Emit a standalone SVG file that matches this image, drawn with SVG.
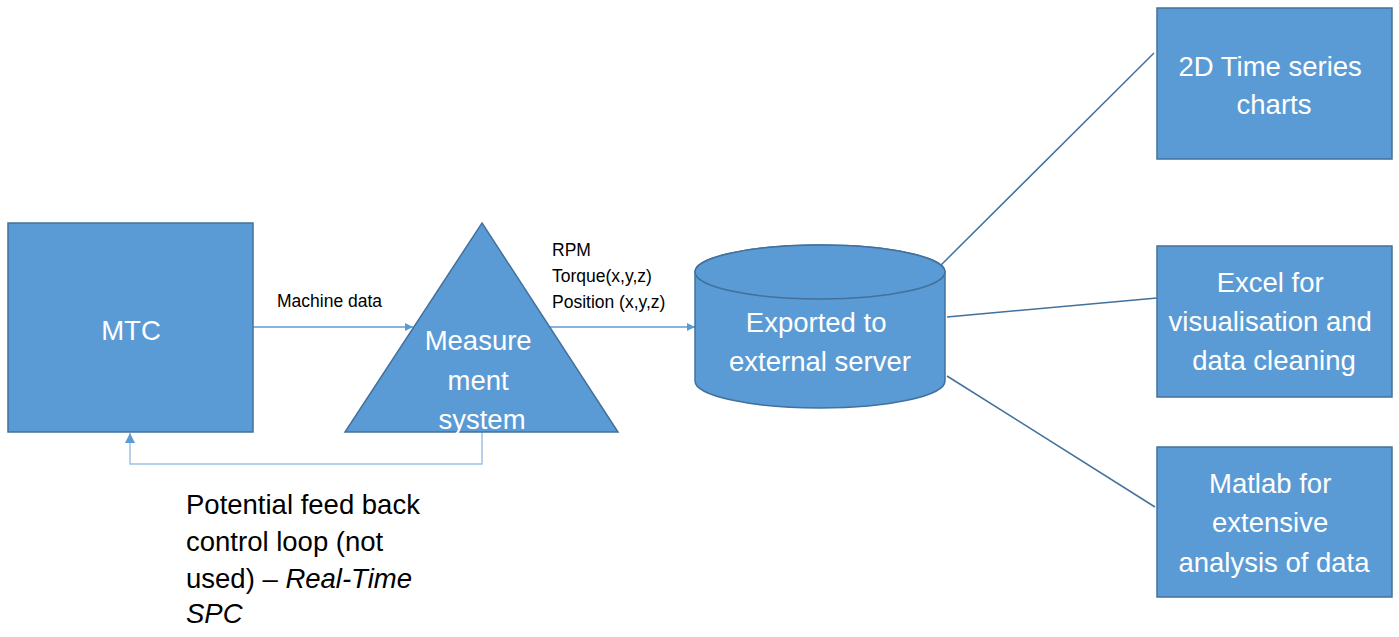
<svg xmlns="http://www.w3.org/2000/svg" width="1399" height="637" viewBox="0 0 1399 637">
  <defs>
    <marker id="arrow" viewBox="0 0 10 10" refX="10" refY="5" markerWidth="8" markerHeight="8" markerUnits="userSpaceOnUse" orient="auto">
      <path d="M0,0 L10,5 L0,10 Z" fill="#5B9BD5"/>
    </marker>
    <marker id="arrowLight" viewBox="0 0 10 10" refX="10" refY="5" markerWidth="10" markerHeight="10" markerUnits="userSpaceOnUse" orient="auto">
      <path d="M0,0 L10,5 L0,10 Z" fill="#5B9BD5"/>
    </marker>
  </defs>
  <style>
    .shape { fill: #5B9BD5; stroke: #41719C; stroke-width: 1.5; }
    .inner { font-family: "Liberation Sans", Arial, sans-serif; fill: #FFFFFF; text-anchor: middle; font-size: 27.5px; }
    .lbl { font-family: "Liberation Sans", Arial, sans-serif; fill: #000000; }
    .small { font-size: 17.5px; }
    .flow { fill: none; stroke: #5B9BD5; stroke-width: 1.5; }
    .link { fill: none; stroke: #41719C; stroke-width: 1.5; }
    .loop { fill: none; stroke: #9DC3E6; stroke-width: 1.5; }
  </style>

  <rect width="1399" height="637" fill="#FFFFFF"/>

  <!-- connectors -->
  <g id="connectors">
    <line class="flow" x1="253" y1="327" x2="413" y2="327" marker-end="url(#arrow)"/>
    <line class="flow" x1="550" y1="327" x2="695" y2="327" marker-end="url(#arrow)"/>
    <polyline class="loop" points="482,432 482,464 130,464 130,433" marker-end="url(#arrowLight)"/>
    <line class="link" x1="938" y1="268" x2="1154" y2="53"/>
    <line class="link" x1="947" y1="317" x2="1157" y2="298"/>
    <line class="link" x1="947" y1="376" x2="1155" y2="507"/>
  </g>

  <!-- connector labels -->
  <g id="labels">
    <text class="lbl small" x="277" y="307">Machine data</text>
    <text class="lbl small" x="552" y="256">RPM</text>
    <text class="lbl small" x="552" y="282">Torque(x,y,z)</text>
    <text class="lbl small" x="552" y="308">Position (x,y,z)</text>
    <text class="lbl" font-size="27.5">
      <tspan x="186" y="514">Potential feed back</tspan>
      <tspan x="186" y="551">control loop (not</tspan>
      <tspan x="186" y="588">used) – <tspan font-style="italic">Real-Time</tspan></tspan>
      <tspan x="186" y="623" font-style="italic">SPC</tspan>
    </text>
  </g>

  <!-- MTC -->
  <g id="mtc">
    <rect class="shape" x="8" y="223" width="245" height="209"/>
    <text class="inner" x="131" y="340" font-size="27">MTC</text>
  </g>

  <!-- measurement system -->
  <g id="measurement">
    <polygon class="shape" points="482,223 618,432 345,432"/>
    <text class="inner">
      <tspan x="482" y="350">Measure</tspan>
      <tspan x="482" y="390">ment</tspan>
      <tspan x="482" y="429">system</tspan>
    </text>
  </g>

  <!-- external server -->
  <g id="server">
    <path class="shape" d="M695,272 L695,381 A125,27 0 0 0 945,381 L945,272 A125,27 0 0 0 695,272 Z"/>
    <ellipse class="shape" cx="820" cy="272" rx="125" ry="27"/>
    <text class="inner" font-size="28">
      <tspan x="820" y="332">Exported to</tspan>
      <tspan x="820" y="371">external server</tspan>
    </text>
  </g>

  <!-- charts -->
  <g id="charts">
    <rect class="shape" x="1157" y="8" width="235" height="151"/>
    <text class="inner">
      <tspan x="1274" y="76">2D Time series</tspan>
      <tspan x="1274" y="114">charts</tspan>
    </text>
  </g>

  <!-- excel -->
  <g id="excel">
    <rect class="shape" x="1157" y="246" width="235" height="151"/>
    <text class="inner">
      <tspan x="1274" y="292">Excel for</tspan>
      <tspan x="1274" y="331">visualisation and</tspan>
      <tspan x="1274" y="370">data cleaning</tspan>
    </text>
  </g>

  <!-- matlab -->
  <g id="matlab">
    <rect class="shape" x="1157" y="447" width="235" height="150"/>
    <text class="inner">
      <tspan x="1274" y="493">Matlab for</tspan>
      <tspan x="1274" y="532">extensive</tspan>
      <tspan x="1274" y="572">analysis of data</tspan>
    </text>
  </g>
</svg>
